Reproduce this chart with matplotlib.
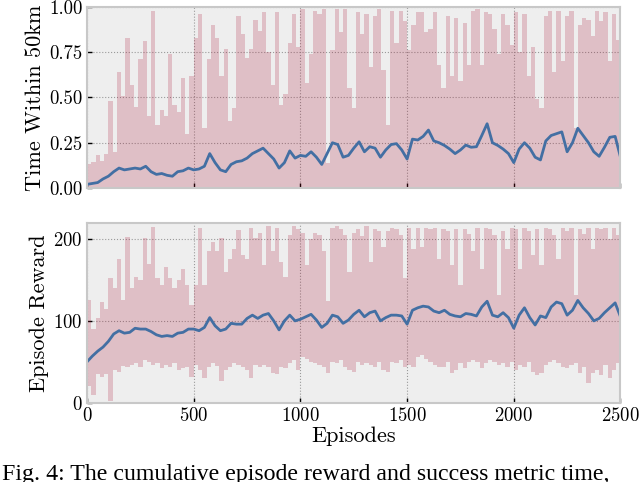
import numpy as np
import matplotlib
matplotlib.use('Agg')
import matplotlib.pyplot as plt

# episode axis for the smoothed curves (one value every 25 episodes)
ma_episodes = list(range(0, 2501, 25))

# smoothed "time within 50km" (moving average)
time_ma = [
    0.02, 0.025, 0.03, 0.05, 0.065, 0.09, 0.11, 0.10, 0.105, 0.11,
    0.105, 0.12, 0.09, 0.075, 0.08, 0.07, 0.065, 0.09, 0.095, 0.11,
    0.10, 0.105, 0.12, 0.19, 0.14, 0.10, 0.09, 0.13, 0.145, 0.15,
    0.165, 0.19, 0.205, 0.22, 0.19, 0.16, 0.11, 0.14, 0.205, 0.165,
    0.18, 0.175, 0.20, 0.17, 0.13, 0.19, 0.25, 0.24, 0.17, 0.18,
    0.22, 0.255, 0.20, 0.228, 0.22, 0.17, 0.21, 0.24, 0.245, 0.21,
    0.16, 0.27, 0.265, 0.285, 0.32, 0.26, 0.25, 0.235, 0.215, 0.19,
    0.21, 0.237, 0.225, 0.228, 0.29, 0.355, 0.25, 0.235, 0.215, 0.19,
    0.14, 0.215, 0.25, 0.22, 0.17, 0.155, 0.26, 0.29, 0.30, 0.31,
    0.20, 0.25, 0.33, 0.29, 0.25, 0.20, 0.175, 0.225, 0.28, 0.285,
    0.17,
]

# smoothed episode reward (moving average)
reward_ma = [
    50, 57, 63, 68, 75, 84, 88, 85, 86, 91,
    90, 90, 87, 83, 81, 82, 81, 85, 86, 90,
    90, 88, 92, 104, 94, 88, 90, 97, 96, 96,
    103, 107, 103, 107, 109, 100, 89, 100, 107, 100,
    102, 105, 108, 101, 92, 97, 107, 105, 97, 101,
    108, 113, 105, 110, 112, 100, 104, 107, 107, 106,
    96, 113, 116, 118, 117, 112, 110, 113, 108, 106,
    105, 109, 108, 106, 117, 124, 107, 105, 110, 104,
    91, 107, 116, 104, 95, 106, 104, 117, 123, 121,
    107, 113, 125, 116, 109, 100, 103, 110, 116, 122,
    105,
]

# raw episodes, binned in blocks of 20 episodes: max (and min) per block
bin_edges = list(range(0, 2501, 20))

time_raw_high = [
    0.13, 0.145, 0.18, 0.15, 0.19, 0.48, 0.20, 0.64, 0.51, 0.83,
    0.57, 0.45, 0.71, 0.81, 0.40, 0.98, 0.35, 0.43, 0.40, 0.74,
    0.46, 0.42, 0.61, 0.30, 0.62, 0.83, 0.96, 0.33, 0.71, 0.90,
    0.83, 0.62, 0.77, 0.37, 0.44, 0.95, 0.85, 0.72, 0.77, 0.93,
    0.87, 0.97, 0.75, 0.57, 0.97, 0.46, 0.52, 0.80, 0.96, 0.78,
    0.99, 0.58, 0.74, 0.98, 0.96, 0.99, 0.14, 0.76, 0.99, 0.86,
    0.99, 0.55, 0.44, 0.97, 0.85, 0.96, 0.67, 0.95, 0.99, 0.65,
    0.35, 0.98, 0.80, 0.98, 0.92, 0.76, 0.90, 0.97, 0.97, 0.86,
    0.88, 0.97, 0.68, 0.55, 0.95, 0.62, 0.94, 0.59, 0.91, 0.68,
    0.98, 0.99, 0.68, 0.97, 0.96, 0.88, 0.74, 0.96, 0.90, 0.79,
    0.97, 0.75, 0.96, 0.62, 0.78, 0.49, 0.44, 0.95, 0.98, 0.64,
    0.98, 0.70, 0.95, 0.98, 0.33, 0.90, 0.94, 0.93, 0.84, 0.98,
    0.92, 0.97, 0.70, 0.96, 0.82,
]
time_raw_low = [0.0] * 125

reward_raw_high = [
    125, 90, 103, 123, 115, 152, 140, 176, 125, 203,
    140, 154, 150, 201, 170, 215, 152, 144, 166, 152,
    140, 150, 164, 144, 120, 144, 213, 144, 185, 197,
    185, 201, 160, 176, 188, 211, 180, 176, 213, 201,
    207, 168, 216, 185, 214, 172, 154, 205, 216, 212,
    208, 168, 200, 207, 205, 185, 124, 214, 216, 212,
    205, 160, 208, 212, 204, 216, 172, 212, 210, 190,
    210, 214, 212, 205, 152, 214, 188, 214, 190, 214,
    212, 214, 176, 212, 210, 168, 212, 144, 212, 206,
    185, 214, 164, 214, 212, 205, 132, 210, 188, 214,
    212, 164, 214, 210, 180, 212, 168, 214, 212, 205,
    176, 214, 210, 214, 132, 212, 206, 214, 188, 214,
    212, 214, 200, 214, 205,
]
reward_raw_low = [
    20, 10, 35, 32, 35, 2, 40, 38, 45, 44,
    46, 48, 44, 52, 50, 46, 48, 42, 46, 44,
    48, 40, 42, 44, 32, 46, 40, 30, 44, 48,
    45, 26, 40, 44, 48, 46, 44, 40, 30, 46,
    44, 46, 44, 36, 35, 44, 42, 48, 52, 40,
    56, 54, 50, 48, 46, 44, 36, 50, 48, 52,
    44, 40, 38, 50, 46, 48, 46, 44, 50, 40,
    38, 50, 48, 52, 44, 46, 44, 56, 58, 54,
    50, 46, 44, 44, 50, 36, 40, 48, 42, 50,
    52, 50, 42, 48, 52, 50, 46, 48, 44, 50,
    40, 46, 44, 50, 38, 34, 36, 46, 50, 52,
    48, 44, 42, 46, 48, 36, 44, 24, 36, 40,
    34, 46, 30, 40, 48,
]

x_ticks = [0, 500, 1000, 1500, 2000, 2500]

plt.rcParams['font.family'] = ['cmr10', 'DejaVu Serif']
plt.rcParams['axes.formatter.use_mathtext'] = True
plt.rcParams['mathtext.fontset'] = 'cm'

raw_color = '#A60628'
line_color = '#436FA3'
bg_color = '#eeeeee'

fig = plt.figure(figsize=(6.4, 4.82), dpi=100)
ax_top = fig.add_axes([0.136, 0.610, 0.8335, 0.3755])
ax_bot = fig.add_axes([0.136, 0.1645, 0.8335, 0.3735])


def style_axes(ax):
    ax.set_facecolor(bg_color)
    ax.set_axisbelow(True)
    ax.grid(True, color='#9a9a9a', linestyle=':', linewidth=0.8)
    for sp in ax.spines.values():
        sp.set_color('#c8c8c8')
        sp.set_linewidth(1.5)
    ax.tick_params(direction='in', length=3.5, width=1, color='black',
                   labelsize=13.5, pad=3, top=False, right=False)
    ax.set_xlim(0, 2500)
    ax.set_xticks(x_ticks)


# top: time within 50km
style_axes(ax_top)
ax_top.stairs(time_raw_high, bin_edges, baseline=time_raw_low, fill=True,
              color=raw_color, alpha=0.2, linewidth=0)
ax_top.plot(ma_episodes, time_ma, color=line_color, linewidth=2.0)
ax_top.set_ylim(0, 1.0)
ax_top.set_yticks([0, 0.25, 0.5, 0.75, 1.0])
ax_top.set_yticklabels(['0.00', '0.25', '0.50', '0.75', '1.00'])
ax_top.tick_params(labelbottom=False)
ax_top.set_ylabel('Time Within 50km', fontsize=16, labelpad=3)

# bottom: episode reward
style_axes(ax_bot)
ax_bot.stairs(reward_raw_high, bin_edges, baseline=reward_raw_low, fill=True,
              color=raw_color, alpha=0.2, linewidth=0)
ax_bot.plot(ma_episodes, reward_ma, color=line_color, linewidth=2.0)
ax_bot.set_ylim(0, 220)
ax_bot.set_yticks([0, 100, 200])
ax_bot.set_ylabel('Episode Reward', fontsize=16, labelpad=3)
ax_bot.set_xlabel('Episodes', fontsize=16, labelpad=1)

fig.text(0.003, 0.004, 'Fig. 4: The cumulative episode reward and success metric time,',
         family='Liberation Serif', fontsize=17.2, ha='left', va='baseline')

fig.savefig('out.png', dpi=100)
